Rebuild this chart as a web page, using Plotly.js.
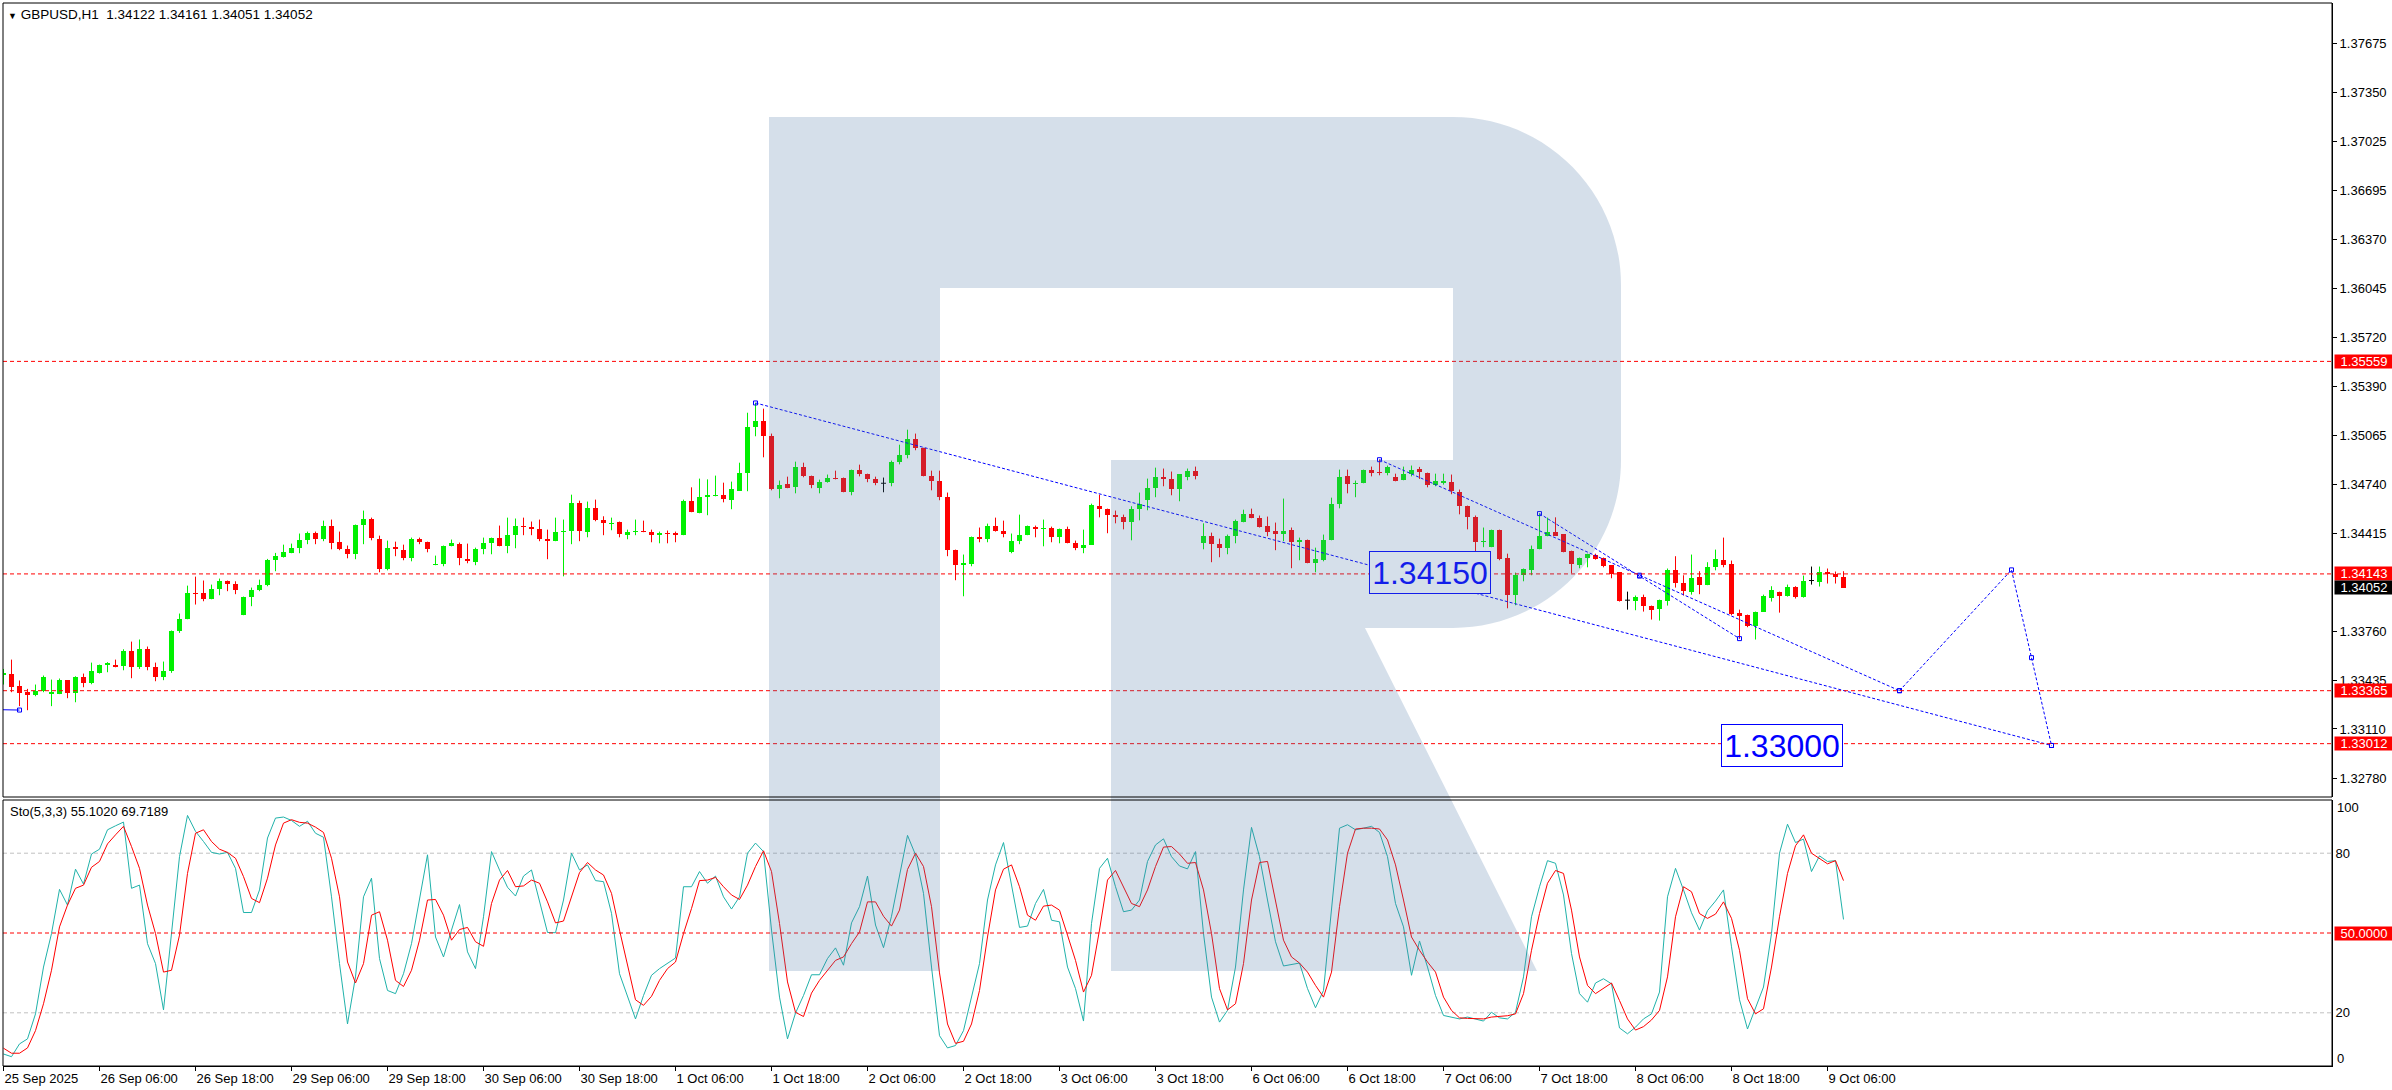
<!DOCTYPE html>
<html><head><meta charset="utf-8">
<script src="https://cdn.plot.ly/plotly-3.0.1.min.js"></script>
<style>html,body{margin:0;padding:0;background:#fff;overflow:hidden}#chart{width:2392px;height:1090px}</style>
</head><body><div id="chart"></div>
<script>
const symbolName = 'GBPUSD,H1';
const stochTitle = 'Sto(5,3,3) 55.1020 69.7189';

const open = [
1.33468,1.33479,1.33393,1.33353,1.33335,1.33362,1.33342,1.33342,1.33433,1.33348,
1.33455,1.33415,1.33486,1.33535,1.33539,1.33528,1.33632,1.33521,1.33646,1.33526,
1.33455,1.33495,1.33761,1.33841,1.34019,1.34019,1.33979,1.34041,1.34094,1.34079,
1.33868,1.33988,1.34034,1.34068,1.34234,1.34258,1.34285,1.34314,1.34367,1.34418,
1.34374,1.34465,1.34356,1.34312,1.34274,1.34467,1.34512,1.34378,1.34174,1.34325,
1.34305,1.34247,1.34378,1.34358,1.34201,1.34207,1.34327,1.34345,1.34245,1.34221,
1.34307,1.34347,1.34385,1.34327,1.34401,1.34465,1.34458,1.34445,1.34378,1.34365,
1.34421,1.34427,1.34618,1.34421,1.34585,1.34505,1.34478,1.34492,1.34401,1.34421,
1.34432,1.34425,1.34401,1.34418,1.34414,1.34401,1.34631,1.34551,1.34654,1.34665,
1.34671,1.34634,1.34698,1.34813,1.35120,1.35164,1.35064,1.34711,1.34745,1.34720,
1.34858,1.34798,1.34714,1.34758,1.34785,1.34785,1.34687,1.34838,1.34811,1.34778,
1.34747,1.34747,1.34891,1.34938,1.35044,1.34984,1.34798,1.34765,1.34658,1.34305,
1.34203,1.34207,1.34392,1.34374,1.34465,1.34432,1.34287,1.34361,1.34401,1.34458,
1.34440,1.34452,1.34387,1.34445,1.34352,1.34314,1.34338,1.34598,1.34578,1.34538,
1.34525,1.34487,1.34578,1.34634,1.34714,1.34791,1.34773,1.34707,1.34791,1.34831,
1.34347,1.34398,1.34345,1.34314,1.34394,1.34492,1.34545,1.34518,1.34465,1.34432,
1.34407,1.34438,1.34354,1.34372,1.34214,1.34238,1.34367,1.34607,1.34798,1.34740,
1.34747,1.34838,1.34825,1.34813,1.34791,1.34767,1.34807,1.34842,1.34818,1.34734,
1.34749,1.34758,1.34691,1.34598,1.34525,1.34358,1.34321,1.34438,1.34252,1.34005,
1.34134,1.34172,1.34307,1.34394,1.34425,1.34407,1.34298,1.34205,1.34247,1.34272,
1.34252,1.34201,1.34154,1.33968,1.33965,1.33992,1.33932,1.33912,1.33961,1.34172,
1.34085,1.34025,1.34125,1.34068,1.34187,1.34238,1.34212,1.33885,1.33872,1.33799,
1.33892,1.33985,1.34025,1.33999,1.34056,1.33992,1.34099,1.34092,1.34156,1.34145,
1.34122];

const high = [
1.33510,1.33572,1.33433,1.33377,1.33406,1.33466,1.33439,1.33446,1.33433,1.33461,
1.33479,1.33552,1.33539,1.33555,1.33572,1.33641,1.33692,1.33706,1.33659,1.33552,
1.33559,1.33766,1.33879,1.34065,1.34125,1.34099,1.34072,1.34112,1.34099,1.34094,
1.33992,1.34052,1.34105,1.34243,1.34283,1.34338,1.34345,1.34412,1.34425,1.34425,
1.34498,1.34505,1.34425,1.34332,1.34472,1.34565,1.34518,1.34398,1.34365,1.34358,
1.34338,1.34385,1.34385,1.34358,1.34265,1.34332,1.34372,1.34352,1.34345,1.34318,
1.34385,1.34385,1.34465,1.34518,1.34512,1.34518,1.34492,1.34505,1.34438,1.34518,
1.34505,1.34671,1.34631,1.34625,1.34638,1.34527,1.34518,1.34492,1.34438,1.34505,
1.34498,1.34438,1.34425,1.34432,1.34425,1.34638,1.34720,1.34778,1.34773,1.34798,
1.34751,1.34758,1.34884,1.35217,1.35282,1.35244,1.35078,1.34765,1.34791,1.34891,
1.34884,1.34798,1.34771,1.34805,1.34831,1.34785,1.34838,1.34871,1.34811,1.34791,
1.34785,1.34898,1.35004,1.35104,1.35078,1.34984,1.34831,1.34831,1.34685,1.34305,
1.34272,1.34392,1.34452,1.34478,1.34518,1.34498,1.34412,1.34538,1.34465,1.34465,
1.34505,1.34458,1.34445,1.34458,1.34365,1.34438,1.34611,1.34671,1.34578,1.34565,
1.34538,1.34594,1.34685,1.34778,1.34851,1.34845,1.34825,1.34805,1.34845,1.34858,
1.34480,1.34418,1.34378,1.34405,1.34505,1.34571,1.34578,1.34532,1.34525,1.34485,
1.34645,1.34452,1.34385,1.34372,1.34318,1.34405,1.34651,1.34838,1.34838,1.34765,
1.34838,1.34858,1.34904,1.34865,1.34811,1.34858,1.34865,1.34856,1.34818,1.34811,
1.34811,1.34805,1.34705,1.34598,1.34532,1.34452,1.34438,1.34438,1.34278,1.34152,
1.34179,1.34332,1.34545,1.34518,1.34520,1.34407,1.34298,1.34252,1.34278,1.34278,
1.34252,1.34201,1.34154,1.34025,1.33999,1.34005,1.33932,1.33972,1.34179,1.34261,
1.34134,1.34272,1.34161,1.34221,1.34305,1.34385,1.34232,1.33905,1.33872,1.33892,
1.34005,1.34061,1.34025,1.34072,1.34061,1.34132,1.34192,1.34192,1.34179,1.34159,
1.34161];

const low = [
1.33406,1.33355,1.33262,1.33235,1.33328,1.33355,1.33262,1.33342,1.33315,1.33288,
1.33388,1.33408,1.33479,1.33488,1.33521,1.33501,1.33448,1.33510,1.33501,1.33428,
1.33435,1.33484,1.33750,1.33841,1.33939,1.33961,1.33974,1.34001,1.34028,1.34008,
1.33868,1.33928,1.34028,1.34061,1.34161,1.34252,1.34281,1.34281,1.34341,1.34341,
1.34361,1.34307,1.34301,1.34247,1.34241,1.34341,1.34367,1.34154,1.34167,1.34261,
1.34234,1.34227,1.34341,1.34287,1.34201,1.34194,1.34327,1.34201,1.34214,1.34201,
1.34274,1.34274,1.34327,1.34281,1.34314,1.34401,1.34401,1.34361,1.34241,1.34361,
1.34127,1.34341,1.34361,1.34387,1.34494,1.34401,1.34434,1.34387,1.34374,1.34401,
1.34421,1.34354,1.34347,1.34347,1.34354,1.34401,1.34554,1.34547,1.34534,1.34660,
1.34620,1.34574,1.34698,1.34694,1.35060,1.34920,1.34700,1.34647,1.34714,1.34680,
1.34787,1.34714,1.34680,1.34751,1.34773,1.34687,1.34667,1.34793,1.34754,1.34734,
1.34687,1.34727,1.34873,1.34913,1.34967,1.34793,1.34700,1.34634,1.34261,1.34101,
1.33994,1.34194,1.34354,1.34354,1.34425,1.34387,1.34281,1.34341,1.34401,1.34387,
1.34327,1.34354,1.34347,1.34347,1.34301,1.34281,1.34338,1.34520,1.34414,1.34480,
1.34440,1.34367,1.34500,1.34567,1.34654,1.34727,1.34667,1.34627,1.34767,1.34773,
1.34307,1.34221,1.34254,1.34274,1.34347,1.34487,1.34514,1.34452,1.34394,1.34301,
1.34361,1.34181,1.34234,1.34214,1.34154,1.34227,1.34367,1.34580,1.34680,1.34654,
1.34747,1.34793,1.34800,1.34800,1.34760,1.34767,1.34793,1.34776,1.34720,1.34727,
1.34738,1.34674,1.34540,1.34440,1.34285,1.34321,1.34321,1.34234,1.33914,1.33934,
1.34094,1.34134,1.34307,1.34394,1.34398,1.34287,1.34147,1.34181,1.34187,1.34238,
1.34187,1.34114,1.33959,1.33905,1.33901,1.33892,1.33839,1.33832,1.33932,1.34052,
1.33999,1.34005,1.34008,1.34068,1.34167,1.34187,1.33868,1.33712,1.33788,1.33706,
1.33892,1.33959,1.33885,1.33992,1.33979,1.33985,1.34072,1.34059,1.34079,1.34079,
1.34051];

const close = [
1.33484,1.33388,1.33348,1.33335,1.33366,1.33455,1.33353,1.33433,1.33348,1.33455,
1.33415,1.33499,1.33539,1.33548,1.33526,1.33632,1.33521,1.33646,1.33521,1.33455,
1.33499,1.33766,1.33846,1.34019,1.34008,1.33974,1.34045,1.34094,1.34074,1.34034,
1.33992,1.34039,1.34072,1.34238,1.34265,1.34292,1.34318,1.34372,1.34418,1.34374,
1.34465,1.34347,1.34307,1.34274,1.34472,1.34512,1.34381,1.34174,1.34318,1.34307,
1.34247,1.34378,1.34354,1.34307,1.34212,1.34332,1.34352,1.34247,1.34227,1.34312,
1.34352,1.34385,1.34327,1.34405,1.34465,1.34454,1.34440,1.34374,1.34361,1.34425,
1.34432,1.34618,1.34427,1.34585,1.34500,1.34480,1.34485,1.34407,1.34425,1.34432,
1.34421,1.34401,1.34418,1.34407,1.34401,1.34631,1.34554,1.34658,1.34671,1.34671,
1.34640,1.34711,1.34818,1.35124,1.35164,1.35060,1.34711,1.34738,1.34718,1.34858,
1.34793,1.34734,1.34758,1.34785,1.34776,1.34687,1.34838,1.34807,1.34773,1.34747,
1.34747,1.34891,1.34938,1.35044,1.34984,1.34793,1.34760,1.34654,1.34301,1.34201,
1.34214,1.34392,1.34374,1.34465,1.34427,1.34407,1.34363,1.34405,1.34465,1.34440,
1.34452,1.34387,1.34445,1.34347,1.34314,1.34338,1.34605,1.34574,1.34534,1.34520,
1.34487,1.34578,1.34611,1.34718,1.34791,1.34773,1.34707,1.34811,1.34831,1.34793,
1.34398,1.34341,1.34314,1.34398,1.34498,1.34545,1.34514,1.34458,1.34425,1.34407,
1.34432,1.34354,1.34372,1.34214,1.34245,1.34372,1.34611,1.34791,1.34740,1.34751,
1.34838,1.34818,1.34813,1.34858,1.34765,1.34811,1.34838,1.34820,1.34734,1.34760,
1.34762,1.34694,1.34594,1.34520,1.34358,1.34365,1.34438,1.34245,1.34005,1.34139,
1.34179,1.34312,1.34398,1.34425,1.34398,1.34292,1.34207,1.34252,1.34274,1.34245,
1.34194,1.34141,1.33965,1.33968,1.33992,1.33932,1.33905,1.33968,1.34172,1.34081,
1.34028,1.34119,1.34068,1.34192,1.34245,1.34201,1.33879,1.33865,1.33799,1.33892,
1.33999,1.34039,1.33999,1.34056,1.33992,1.34099,1.34099,1.34159,1.34145,1.34121,
1.34052];

const stochK = [
4.5,3.5,8.3,10.2,19.6,37.2,49.8,66.4,60.5,74,
68.4,79.7,81.5,88.8,90.3,91.7,66.8,68,46,38.5,
21.1,49.2,78.7,94.2,88.2,84.4,80.3,79.7,80.3,74.3,
57.7,57.7,66.2,85.7,93.2,93.6,92.3,90.1,92,87.5,
86,63.6,38.5,15.8,33.5,63.6,70.6,40.4,28.4,27.2,
34.7,46,62.4,79.4,48.5,41,51.1,60.7,42.9,36.6,
56.1,80.6,73.7,67.2,63.9,71.4,73.7,62.4,50.2,50.1,
62.4,80,73.7,75.6,69.7,69.3,57.4,34.7,25.9,17.7,
26.5,34.1,36.6,38.7,40.6,67.4,67.4,73.1,68.7,71.4,
63.6,59,63.6,80,83.8,80.6,51.1,25.9,10.2,19.9,
26.5,34.3,34.3,40.4,44.4,37.9,53.8,59.9,71.4,53,
44.5,56.3,71.8,86.7,79.4,64.9,37.2,11.4,6.8,7.7,
13.3,25.9,38.5,62.4,75.6,84,68,52.1,52.6,61.1,
66.4,54.8,54.2,37.2,29.1,16.9,53.6,74.3,78.1,67.4,
58,58.6,62.4,76.9,83.1,85.4,78.7,75.2,74.1,80.6,
49.8,25.9,16.5,20.9,37.2,66.2,89.7,78.7,62.4,46.7,
37.6,38.2,38.7,29.1,21.9,28.4,58.6,89.4,90.7,88.8,
89.4,90.1,87.8,78.7,61.1,52.3,34.1,47,37.2,26.5,
19,18.4,17.7,18.4,17.7,16.9,20.2,18.1,17.7,20.2,
33.5,56.1,67.4,77.2,76.2,64.3,42.3,27.2,24,31.2,
32.8,30.9,14.3,12.1,14.6,17.7,19.6,27.8,63.6,74.3,
66.2,57.6,51.1,58.4,62,66.2,44.8,24.9,13.9,22.1,
29.7,49.8,80,90.9,84,85.3,73.1,79,76.9,77.2,
55.1];

const stochD = [
6.7,4.8,4.8,6.8,13.3,23.4,36,52.3,60.5,66.8,
68,74.7,76.9,83.5,86.9,90.1,82.5,74.3,60.5,49.8,
35.3,36,49.2,72.4,87.5,88.8,84.4,81.5,80.3,78.1,
71.2,63,61.4,70.6,83.1,91.3,92.6,91.6,91.3,89.8,
87.8,78.1,63.6,39.1,31.2,38.5,56.7,58,47.3,32.2,
29.9,36,47.3,62.4,62.6,56.7,47.3,51.3,52.1,46.7,
45,61.1,69.9,73.5,67.4,67.7,69.9,68.7,61.7,53.8,
54.5,63.9,72.7,76.5,73.7,71.8,64.9,51.1,38.5,24.9,
22.8,26.2,32.2,36.6,39.1,49.8,59.2,69.7,69.9,70.9,
67.4,64.3,62.6,68,75,80.9,73.1,53.6,31.6,20.2,
18.6,27.4,32.2,36,39.7,41,46,50.4,61.7,61.7,
56.3,52.6,58.6,73.9,80,75,59.9,35,15.8,8.5,
9.3,15.8,28.4,48.5,66.2,74,75.6,67.4,56.7,54.8,
60.1,60.5,58.6,49.2,39.7,27.8,34.1,51.1,69.9,73.5,
67.4,61.1,59.9,66.2,75,82.3,82.5,79.7,76.2,76.5,
66.2,49.8,29.1,21.1,23.4,38.5,62.4,76.5,76.9,62.4,
47.3,41,38.7,35.3,30.3,25.9,35.3,59.9,80,89.1,
89.4,89.4,89.1,85,75.6,62.4,48.5,43.5,39.1,35.3,
25.9,20.9,18.1,17.9,17.7,17.7,18.4,18.6,18.9,19.6,
27.2,43.5,57.3,68.7,73.5,72.4,58.6,41,30.3,27.2,
29.1,31.2,24.6,17.7,13.5,14.8,17.3,20.9,33.5,56.1,
67.4,65.5,57.3,55.5,57.1,61.7,55.5,43.5,25.3,19.6,
21.5,37.2,56.1,72.4,82.8,86.9,80,78.1,76,77.2,
69.7];

const timeTickBars = [0,12,24,36,48,60,72,84,96,108,120,132,144,156,168,180,192,204,216,228];
const timeTickLabels = ['25 Sep 2025','26 Sep 06:00','26 Sep 18:00','29 Sep 06:00','29 Sep 18:00',
  '30 Sep 06:00','30 Sep 18:00','1 Oct 06:00','1 Oct 18:00','2 Oct 06:00','2 Oct 18:00',
  '3 Oct 06:00','3 Oct 18:00','6 Oct 06:00','6 Oct 18:00','7 Oct 06:00','7 Oct 18:00',
  '8 Oct 06:00','8 Oct 18:00','9 Oct 06:00'];
const priceTicks = [1.37675,1.37350,1.37025,1.36695,1.36370,1.36045,1.35720,1.35390,1.35065,
  1.34740,1.34415,1.33760,1.33435,1.33110,1.32780];
const levelPrices = [1.35559,1.34143,1.33365,1.33012];
const bidPrice = 1.34052;
const stochTickVals = [20,80];
const stochLevelsGray = [20,80];
const stochLevelMid = 50;

// wave / trend lines (bar index, price)
const priorWaveX = [-6,2],       priorWaveY = [1.33244,1.33236];
const trendAX = [94,256],        trendAY = [1.35282,1.33000];
const trendBX = [172,237],       trendBY = [1.34904,1.33365];
const trendCX = [192,217],       trendCY = [1.34545,1.33712];
const forecastX = [237,251,256], forecastY = [1.33365,1.34170,1.33000];
const targetBars = [186,230], targetPrices = [1.34150,1.33000];

// ---------- geometry ----------
const W = 2392, H = 1090;
const PL = 3, PR = 2332, PT = 3, PB = 1066;
const MAIN_BOTTOM_PX = 797, STO_TOP_PX = 800;
const mainDomain = [(PB - MAIN_BOTTOM_PX) / (PB - PT), 1];
const stoDomain = [0, (PB - STO_TOP_PX) / (PB - PT)];
const FONT = 'Liberation Sans, Arial, sans-serif';
const BULL = '#00F000', BEAR = '#FF0000', BLUE = '#0000FF';

const traces = [];
const groups = {bull:{x:[],h:[],b:[],wx:[],wy:[],c:BULL}, bear:{x:[],h:[],b:[],wx:[],wy:[],c:BEAR}, doji:{x:[],h:[],b:[],wx:[],wy:[],c:'#000000'}};
const dojiTickX = [], dojiTickY = [];
open.forEach((o, i) => {
  const c = close[i];
  const g = c > o ? groups.bull : (c < o ? groups.bear : groups.doji);
  g.wx.push(i, i, null); g.wy.push(low[i], high[i], null);
  if (c === o) { dojiTickX.push(i - 0.3125, i + 0.3125, null); dojiTickY.push(o, o, null); }
  else { g.x.push(i); g.h.push(Math.abs(c - o)); g.b.push(Math.min(o, c)); }
});
['bull','bear','doji'].forEach(k => {
  const g = groups[k];
  traces.push({type:'scatter', mode:'lines', x:g.wx, y:g.wy, xaxis:'x', yaxis:'y',
    line:{color:g.c, width:1}, hoverinfo:'skip', showlegend:false});
});
['bull','bear'].forEach(k => {
  const g = groups[k];
  traces.push({type:'bar', x:g.x, y:g.h, base:g.b, width:0.625, xaxis:'x', yaxis:'y',
    marker:{color:g.c, line:{width:0}}, hoverinfo:'skip', showlegend:false});
});
traces.push({type:'scatter', mode:'lines', x:dojiTickX, y:dojiTickY, xaxis:'x', yaxis:'y',
  line:{color:'#000', width:1}, hoverinfo:'skip', showlegend:false});

// trend lines
const dot = {color:BLUE, width:1, dash:'3px,2px'};
[[trendAX,trendAY],[trendBX,trendBY],[trendCX,trendCY],[forecastX,forecastY]].forEach(([xs,ys]) => {
  traces.push({type:'scatter', mode:'lines', x:xs, y:ys, xaxis:'x', yaxis:'y', line:dot,
    hoverinfo:'skip', showlegend:false});
});
traces.push({type:'scatter', mode:'lines', x:priorWaveX, y:priorWaveY, xaxis:'x', yaxis:'y',
  line:{color:BLUE, width:1}, hoverinfo:'skip', showlegend:false});
// anchor squares (ends + midpoints of selected objects)
const mkX = [], mkY = [];
[[trendAX,trendAY],[trendBX,trendBY],[trendCX,trendCY]].forEach(([xs,ys]) => {
  mkX.push(xs[0], (xs[0]+xs[1])/2, xs[1]); mkY.push(ys[0], (ys[0]+ys[1])/2, ys[1]);
});
forecastX.forEach((x, j) => { mkX.push(x); mkY.push(forecastY[j]); });
const nF = forecastX.length;
mkX.push((forecastX[nF-2] + forecastX[nF-1]) / 2); mkY.push((forecastY[nF-2] + forecastY[nF-1]) / 2);
mkX.push(priorWaveX[1]); mkY.push(priorWaveY[1]);
traces.push({type:'scatter', mode:'markers', x:mkX, y:mkY, xaxis:'x', yaxis:'y',
  marker:{symbol:'square-open', size:4, color:BLUE, line:{width:1, color:BLUE}},
  hoverinfo:'skip', showlegend:false});

// stochastic
const idx = stochK.map((_, i) => i);
traces.push({type:'scatter', mode:'lines', x:idx, y:stochK, xaxis:'x', yaxis:'y2',
  line:{color:'#20B2AA', width:1}, hoverinfo:'skip', showlegend:false});
traces.push({type:'scatter', mode:'lines', x:idx, y:stochD, xaxis:'x', yaxis:'y2',
  line:{color:'#FF0000', width:1}, hoverinfo:'skip', showlegend:false});

// ---------- shapes ----------
const shapes = [];
levelPrices.forEach(v => shapes.push({type:'line', xref:'paper', x0:0, x1:1, yref:'y', y0:v, y1:v,
  layer:'above', line:{color:'#FF0000', width:1, dash:'4px,3px'}}));
stochLevelsGray.forEach(v => shapes.push({type:'line', xref:'paper', x0:0, x1:1, yref:'y2', y0:v, y1:v,
  layer:'below', line:{color:'#C0C0C0', width:1, dash:'4px,3px'}}));
shapes.push({type:'line', xref:'paper', x0:0, x1:1, yref:'y2', y0:stochLevelMid, y1:stochLevelMid,
  layer:'above', line:{color:'#FF0000', width:1, dash:'4px,3px'}});

// watermark "R"
const px = x => ((x - PL) / (PR - PL)).toFixed(5);
const py = y => ((PB - y) / (PB - PT)).toFixed(5);
const P = (x, y) => px(x) + ',' + py(y);
const k = 0.5523, r = 168;
const rPath = 'M' + P(769,117) + ' L' + P(1453,117) +
  ' C' + P(1453 + k*r,117) + ' ' + P(1621,285 - k*r) + ' ' + P(1621,285) +
  ' L' + P(1621,460) +
  ' C' + P(1621,460 + k*r) + ' ' + P(1453 + k*r,628) + ' ' + P(1453,628) +
  ' L' + P(1365,628) + ' L' + P(1537,971) + ' L' + P(1111,971) + ' L' + P(1111,460) +
  ' L' + P(1453,460) + ' L' + P(1453,288) + ' L' + P(940,288) + ' L' + P(940,971) +
  ' L' + P(769,971) + ' Z';
shapes.push({type:'path', xref:'paper', yref:'paper', path:rPath, layer:'above',
  fillcolor:'rgba(79,123,166,0.24)', line:{width:0}});

// frames
shapes.push({type:'rect', xref:'paper', yref:'paper', x0:0, x1:1, y0:mainDomain[0], y1:1,
  layer:'above', line:{color:'#000', width:1}, fillcolor:'rgba(0,0,0,0)'});
shapes.push({type:'rect', xref:'paper', yref:'paper', x0:0, x1:1, y0:0, y1:stoDomain[1],
  layer:'above', line:{color:'#000', width:1}, fillcolor:'rgba(0,0,0,0)'});

// ---------- annotations ----------
const ann = [];
const last = open.length - 1;
const headerText = '<span style="font-size:9px">\u25BC</span> ' + symbolName + '\u00a0\u00a0' +
  [open[last], high[last], low[last], close[last]].map(v => v.toFixed(5)).join(' ');
ann.push({xref:'paper', yref:'paper', x:0, y:1, xanchor:'left', yanchor:'top', xshift:3, yshift:-2,
  text:headerText, showarrow:false, font:{family:FONT, size:13.5, color:'#000'}});
ann.push({xref:'paper', yref:'paper', x:0, y:stoDomain[1], xanchor:'left', yanchor:'top', xshift:5, yshift:-2,
  text:stochTitle, showarrow:false, font:{family:FONT, size:13, color:'#000'}});

const axisBox = (yref, v, txt, bg) => ({xref:'paper', yref:yref, x:1, y:v, xanchor:'left', yanchor:'middle',
  xshift:2, text:txt, showarrow:false, bgcolor:bg, borderpad:0, width:58, height:13, align:'center',
  font:{family:FONT, size:13, color:'#FFFFFF'}});
levelPrices.forEach(v => ann.push(axisBox('y', v, v.toFixed(5), '#FF0000')));
ann.push(axisBox('y', bidPrice, bidPrice.toFixed(5), '#000000'));
ann.push(axisBox('y2', stochLevelMid, stochLevelMid.toFixed(4), '#FF0000'));
ann.push({xref:'paper', yref:'y2', x:1, y:97, xanchor:'left', yanchor:'middle', xshift:3,
  text:'100', showarrow:false, font:{family:FONT, size:13, color:'#000'}});
ann.push({xref:'paper', yref:'y2', x:1, y:3, xanchor:'left', yanchor:'middle', xshift:3,
  text:'0', showarrow:false, font:{family:FONT, size:13, color:'#000'}});

targetBars.forEach((b, j) => {
  const inMark = j === 0;
  ann.push({xref:'x', yref:'y', x:b, y:targetPrices[j], xanchor:'right', yanchor:'middle', xshift:-1,
    text:targetPrices[j].toFixed(5), showarrow:false,
    bgcolor: inMark ? '#D5DFEA' : '#FFFFFF',
    bordercolor: inMark ? '#131EEA' : BLUE, borderwidth:1, borderpad:1, width:118, height:39,
    font:{family:FONT, size:32, color: inMark ? '#131EEA' : BLUE}});
});

const layout = {
  width:W, height:H, paper_bgcolor:'#FFFFFF', plot_bgcolor:'#FFFFFF',
  margin:{l:PL, r:W - PR, t:PT, b:H - PB, autoexpand:false},
  showlegend:false, hovermode:false, barmode:'overlay', bargap:0,
  xaxis:{range:[-0.0625, 291.0625], anchor:'y2', tickvals:timeTickBars, ticktext:timeTickLabels,
    ticks:'outside', ticklen:4, tickcolor:'#000', tickwidth:1, showline:true, linecolor:'#000', linewidth:1,
    ticklabelposition:'outside right', tickfont:{family:FONT, size:13, color:'#000'},
    showgrid:false, zeroline:false, fixedrange:true},
  yaxis:{domain:mainDomain, range:[1.326567, 1.379468], side:'right', anchor:'x',
    tickvals:priceTicks, ticktext:priceTicks.map(v => v.toFixed(5)),
    ticks:'outside', ticklen:4, tickcolor:'#000', tickwidth:1, showline:true, linecolor:'#000', linewidth:1,
    tickfont:{family:FONT, size:13, color:'#000'}, showgrid:false, zeroline:false, fixedrange:true},
  yaxis2:{domain:stoDomain, range:[0,100], side:'right', anchor:'x',
    tickvals:stochTickVals, ticktext:stochTickVals.map(String), ticks:'',
    showline:true, linecolor:'#000', linewidth:1,
    tickfont:{family:FONT, size:13, color:'#000'}, showgrid:false, zeroline:false, fixedrange:true},
  shapes:shapes, annotations:ann
};

Plotly.newPlot('chart', traces, layout, {staticPlot:true, displayModeBar:false});
</script>
</body></html>
